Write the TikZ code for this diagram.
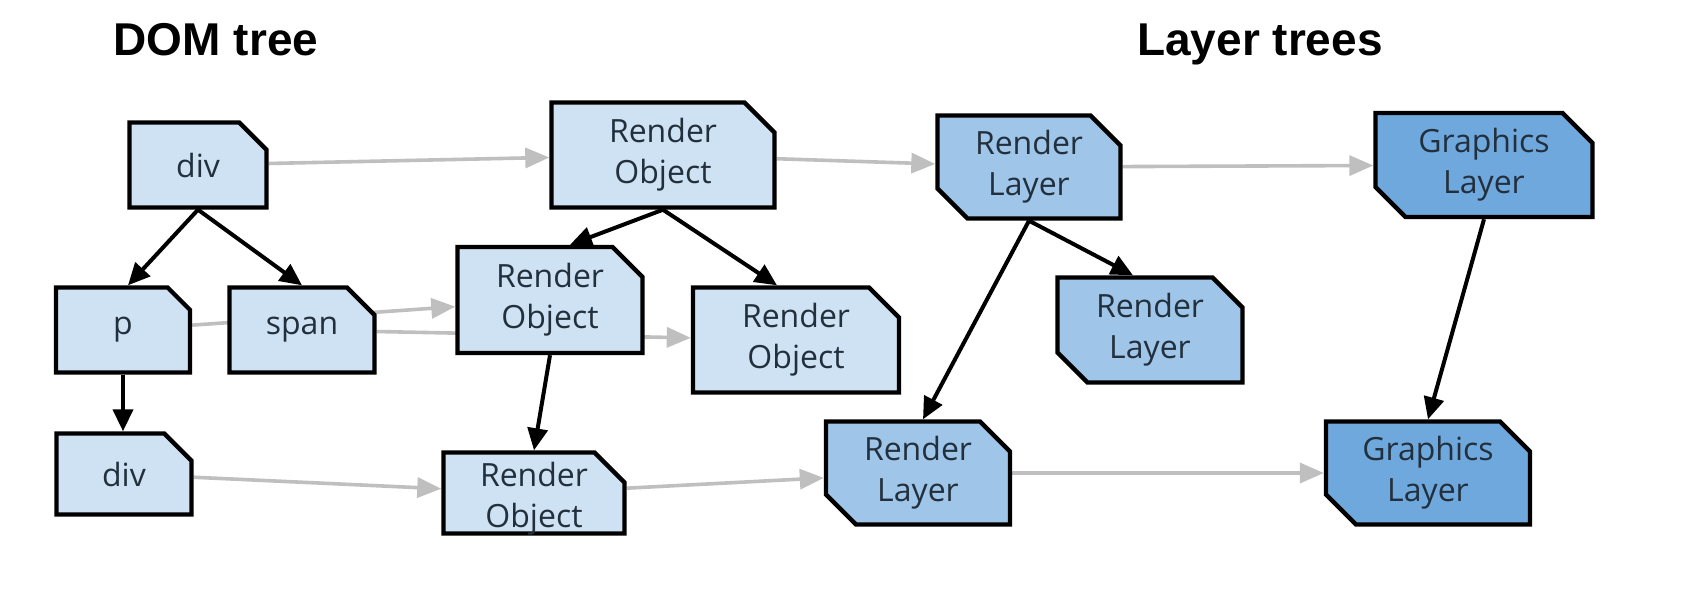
\documentclass[tikz,border=0pt]{standalone}
\usepackage{fontspec}
\setmainfont{Open Sans}
\newfontfamily\titlefont{Liberation Sans}
\usetikzlibrary{shapes.misc,arrows.meta}
\pgfdeclarelayer{background}
\pgfsetlayers{background,main}
\definecolor{lightfill}{HTML}{CFE2F3}
\definecolor{midfill}{HTML}{9FC5E8}
\definecolor{darkfill}{HTML}{6FA8DC}
\definecolor{txt}{HTML}{22303D}
\definecolor{grayline}{HTML}{BFBFBF}
\tikzset{
  box/.style={chamfered rectangle, chamfered rectangle sep=7.5pt,
    draw=black, line width=2.2pt, inner sep=0pt, align=center, text=txt,
    font=\fontsize{16}{20.5}\selectfont},
  dombox/.style={box, fill=lightfill, chamfered rectangle corners=north east},
  layerbox/.style={box, fill=midfill, chamfered rectangle corners={north east,south west}},
  gfxbox/.style={box, fill=darkfill, chamfered rectangle corners={north east,south west}},
  tree/.style={-{Triangle[length=11pt,width=10pt]}, line width=2pt, black},
  link/.style={-{Triangle[length=12pt,width=10pt]}, line width=1.8pt, grayline},
  heading/.style={font=\titlefont\bfseries\fontsize{23}{28}\selectfont, text=black},
}
\begin{document}
\begin{tikzpicture}[x=0.5pt,y=-0.5pt]
\useasboundingbox (0,0) rectangle (1696,590);

\node[heading, anchor=base] (domtitle) at (216,55) {DOM tree};
\node[heading, anchor=base] (layertitle) at (1260,55) {Layer trees};

% DOM tree
\node[dombox, minimum width=68.5pt, minimum height=42.5pt] (div1) at (198,165) {div};
\node[dombox, minimum width=67pt, minimum height=42.5pt] (p) at (123,330) {p};
\node[dombox, minimum width=72.5pt, minimum height=42.5pt] (span) at (302,330) {span};
\node[dombox, minimum width=67.5pt, minimum height=40.5pt] (div2) at (124,474) {div};

% Render objects
\node[dombox, minimum width=111.5pt, minimum height=52.5pt] (ro1) at (663,155) {Render\\Object};
\node[dombox, minimum width=92.5pt, minimum height=53pt] (ro2) at (550,300) {Render\\Object};
\node[dombox, minimum width=103pt, minimum height=52.5pt] (ro3) at (796,340) {Render\\Object};
\node[dombox, minimum width=90.5pt, minimum height=40.5pt] (ro4) at (534,493) {\phantom{Object}};
\node[align=center, text=txt, font=\fontsize{16}{20.5}\selectfont, inner sep=0pt]
  (ro4text) at ([yshift=-3pt]ro4.center) {Render\\Object};

% Render layers
\node[layerbox, minimum width=91.5pt, minimum height=51.5pt] (rl1) at (1029,167) {Render\\Layer};
\node[layerbox, minimum width=92.5pt, minimum height=52.5pt] (rl2) at (1150,330) {Render\\Layer};
\node[layerbox, minimum width=92pt, minimum height=51.5pt] (rl3) at (918,473) {Render\\Layer};

% Graphics layers
\node[gfxbox, minimum width=108.5pt, minimum height=52pt] (gl1) at (1484,165) {Graphics\\Layer};
\node[gfxbox, minimum width=102pt, minimum height=51pt] (gl2) at (1428,473) {Graphics\\Layer};

% gray links behind the boxes
\begin{pgfonlayer}{background}
\draw[link] (div1) -- (ro1);
\draw[link] (p) -- (ro2);
\draw[link] (span) -- (ro3);
\draw[link] (ro1) -- (rl1);
\draw[link] (div2) -- (ro4);
\draw[link] (ro4) -- (rl3);
\draw[link] (rl1) -- (gl1);
\draw[link] (rl3) -- (gl2);
\end{pgfonlayer}

% tree edges
\draw[tree] (div1.south) -- ([xshift=2.5pt]p.north);
\draw[tree] (div1.south) -- (span.north);
\draw[tree] (p.south) -- (p.south |- div2.north);
\draw[tree] (ro1.south) -- ([xshift=10pt]ro2.north);
\draw[tree] (ro1.south) -- ([xshift=-9.5pt]ro3.north);
\draw[tree] (ro2.south) -- (ro4.north);
\draw[tree] (rl1.south) -- ([xshift=-8.5pt]rl2.north);
\draw[tree] (rl1.south) -- ([xshift=2.5pt]rl3.north);
\draw[tree] (gl1.south) -- (gl2.north);
\end{tikzpicture}
\end{document}
